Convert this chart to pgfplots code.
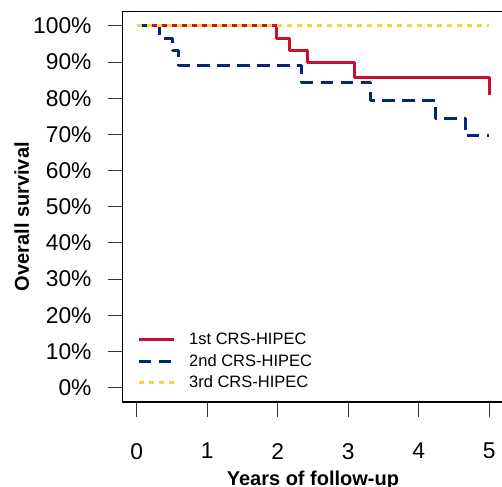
\documentclass[border=0pt]{standalone}
\usepackage{fontspec}
\setmainfont{Liberation Sans}
\usepackage{pgfplots}
\pgfplotsset{compat=1.18}
\definecolor{cred}{RGB}{200,16,46}
\definecolor{cblue}{RGB}{0,40,120}
\definecolor{cyellow}{RGB}{245,215,60}
\begin{document}
\begin{tikzpicture}
\useasboundingbox (0,0) rectangle (502pt,486pt);
\begin{axis}[
  at={(122.5pt,84pt)}, anchor=south west,
  scale only axis, width=380.9pt, height=390.5pt,
  xmin=-0.2, xmax=5.2, ymin=-4, ymax=104,
  xtick={0,1,2,3,4,5}, xticklabels={0,1,2,3,4,5},
  ytick={0,10,20,30,40,50,60,70,80,90,100},
  yticklabels={0\%,10\%,20\%,30\%,40\%,50\%,60\%,70\%,80\%,90\%,100\%},
  tick pos=left, tick align=outside, major tick length=15pt,
  every tick/.style={black!80, line width=1pt},
  axis line style={black, line width=1.2pt},
  tick label style={font=\fontsize{22.8}{26}\selectfont, inner sep=0pt},
  xticklabel style={anchor=north, yshift=-26pt},
  yticklabel style={anchor=east, xshift=-15.8pt},
  every axis x label/.style={at={(axis description cs:0.5,-0.2151)}, anchor=base},
  every axis y label/.style={at={(axis description cs:-0.2646,0.4745)}, rotate=90, anchor=center},
  label style={font=\bfseries\fontsize{20}{24}\selectfont},
  xlabel={Years of follow-up},
  ylabel={Overall survival},
  legend style={at={(axis description cs:0.038,0.176)}, anchor=north west, draw=none, fill=none,
    font=\fontsize{16.5}{19}\selectfont, inner sep=0pt, nodes={inner sep=0pt}, row sep=8pt, column sep=14pt},
  legend cell align=left,
  legend image code/.code={\draw[#1] (0pt,0pt) -- (35pt,0pt);},
]
\addplot[cred, line width=3pt, line join=round] coordinates {
 (0,100) (1.986,100) (1.986,96.6) (2.174,96.6) (2.174,93.2) (2.42,93.2) (2.42,89.8)
 (3.09,89.8) (3.09,85.8) (5.0,85.8) (5.0,80.9)};
\addlegendentry{1st CRS-HIPEC}
\addplot[cblue, line width=3pt, line join=round, dash pattern=on 12.7pt off 7.3pt] coordinates {
 (0,100) (0.33,100) (0.33,96.4) (0.505,96.4) (0.505,93.1) (0.59,93.1) (0.59,89.1)
 (2.34,89.1) (2.34,84.5) (3.32,84.5) (3.32,79.4) (4.24,79.4) (4.24,74.5)
 (4.66,74.5) (4.66,69.6) (5.0,69.6)};
\addlegendentry{2nd CRS-HIPEC}
\addplot[cyellow, line width=3pt, dash pattern=on 5.7pt off 4.3pt] coordinates {
 (0,100) (5.0,100)};
\addlegendentry{3rd CRS-HIPEC}
\end{axis}
\end{tikzpicture}
\end{document}
